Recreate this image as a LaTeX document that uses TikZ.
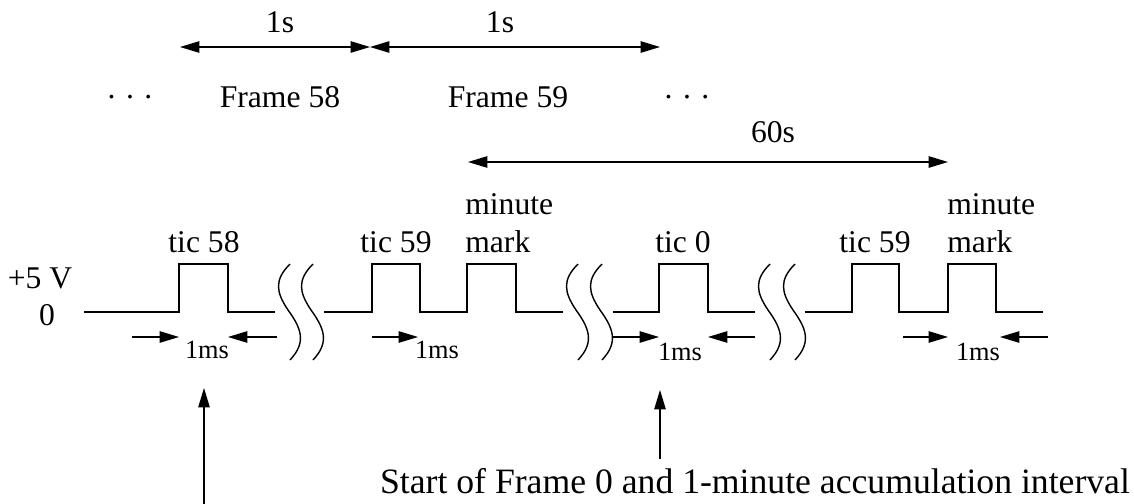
\documentclass[tikz,border=0pt]{standalone}
\usepackage{fontspec}
\setmainfont{Liberation Serif}
\usetikzlibrary{arrows.meta}

\begin{document}
\begin{tikzpicture}[x=0.02cm,y=-0.02cm,
    signal/.style={line width=1.1pt},
    brudd/.style={line width=0.8pt},
    pil/.style={line width=0.7pt,-{Triangle[length=11pt,width=6.5pt]}},
    dobbelpil/.style={line width=0.7pt,{Triangle[length=11pt,width=6.5pt]}-{Triangle[length=11pt,width=6.5pt]}},
    tekst/.style={inner sep=0pt,font=\fontsize{18}{21.6}\selectfont},
    liten/.style={inner sep=0pt,font=\fontsize{15}{18}\selectfont}]

    \useasboundingbox (0,0) rectangle (1134,504);

    %Rammer
        \node[tekst] (s58) at (280,22) {1s};
        \node[tekst] (s59) at (500,22) {1s};
        \coordinate (r1) at (180,47);
        \coordinate (r2) at (370,47);
        \coordinate (r3) at (660,47);
        \draw[dobbelpil] (r1)--(r2);
        \draw[dobbelpil] (r2)--(r3);
        \node[tekst] (dots1) at (130,97) {. . .};
        \node[tekst] (f58) at (280,97) {Frame 58};
        \node[tekst] (f59) at (508,97) {Frame 59};
        \node[tekst] (dots2) at (687,97) {. . .};

    %Minutt
        \node[tekst] (s60) at (773,132) {60s};
        \coordinate (m1) at (468,162);
        \coordinate (m2) at (948,162);
        \draw[dobbelpil] (m1)--(m2);

    %Signal
        \node[tekst] (volt) at (40,278) {+5 V};
        \node[tekst] (null) at (47,315) {0};
        \draw[signal] (84,312) -| (179,264) -| (228,312) -- (275,312);
        \draw[signal] (324,312) -| (372,264) -| (420,312) -| (467,264) -| (516,312) -- (563,312);
        \draw[signal] (613,312) -| (659,264) -| (708,312) -- (755,312);
        \draw[signal] (805,312) -| (852,264) -| (899,312) -| (948,264) -| (996,312) -- (1043,312);
        \foreach \b in {277,300,565,589,757,782}
            \draw[brudd] (\b+13,264) .. controls (\b-3,280) and (\b-1,292) .. (\b+11,310)
                .. controls (\b+24,328) and (\b+30,342) .. (\b+13,360);

    %Tekst
        \node[tekst] (t58) at (204,252) [anchor=base] {tic 58};
        \node[tekst] (t59a) at (396,252) [anchor=base] {tic 59};
        \node[tekst] (t0) at (683,252) [anchor=base] {tic 0};
        \node[tekst] (t59b) at (875,252) [anchor=base] {tic 59};
        \node[tekst,align=left,anchor=north west] (mm1) at (465,193) {minute\\mark};
        \node[tekst,align=left,anchor=north west] (mm2) at (947,193) {minute\\mark};

    %Millisekund
        \coordinate (p1a) at (132,337);
        \coordinate (p1b) at (179,337);
        \coordinate (p1c) at (277,337);
        \coordinate (p1d) at (228,337);
        \draw[pil] (p1a)--(p1b);
        \draw[pil] (p1c)--(p1d);
        \node[liten] (ms1) at (207,350) {1ms};
        \coordinate (p2a) at (372,337);
        \coordinate (p2b) at (418,337);
        \draw[pil] (p2a)--(p2b);
        \node[liten] (ms2) at (437,350) {1ms};
        \coordinate (p3a) at (613,337);
        \coordinate (p3b) at (659,337);
        \coordinate (p3c) at (755,337);
        \coordinate (p3d) at (708,337);
        \draw[pil] (p3a)--(p3b);
        \draw[pil] (p3c)--(p3d);
        \node[liten] (ms3) at (680,352) {1ms};
        \coordinate (p4a) at (903,337);
        \coordinate (p4b) at (948,337);
        \coordinate (p4c) at (1048,337);
        \coordinate (p4d) at (1000,337);
        \draw[pil] (p4a)--(p4b);
        \draw[pil] (p4c)--(p4d);
        \node[liten] (ms4) at (978,352) {1ms};

    %Start
        \node[tekst,inner sep=5pt,font=\fontsize{20.3}{24}\selectfont] (start) at (755,481) {Start of Frame 0 and 1-minute accumulation interval};
        \coordinate (b1) at (204,504);
        \coordinate (b1t) at (204,388);
        \coordinate (b2t) at (660,390);
        \draw[pil] (b1)--(b1t);
        \draw[pil] (start.north -| b2t)--(b2t);

\end{tikzpicture}
\end{document}
